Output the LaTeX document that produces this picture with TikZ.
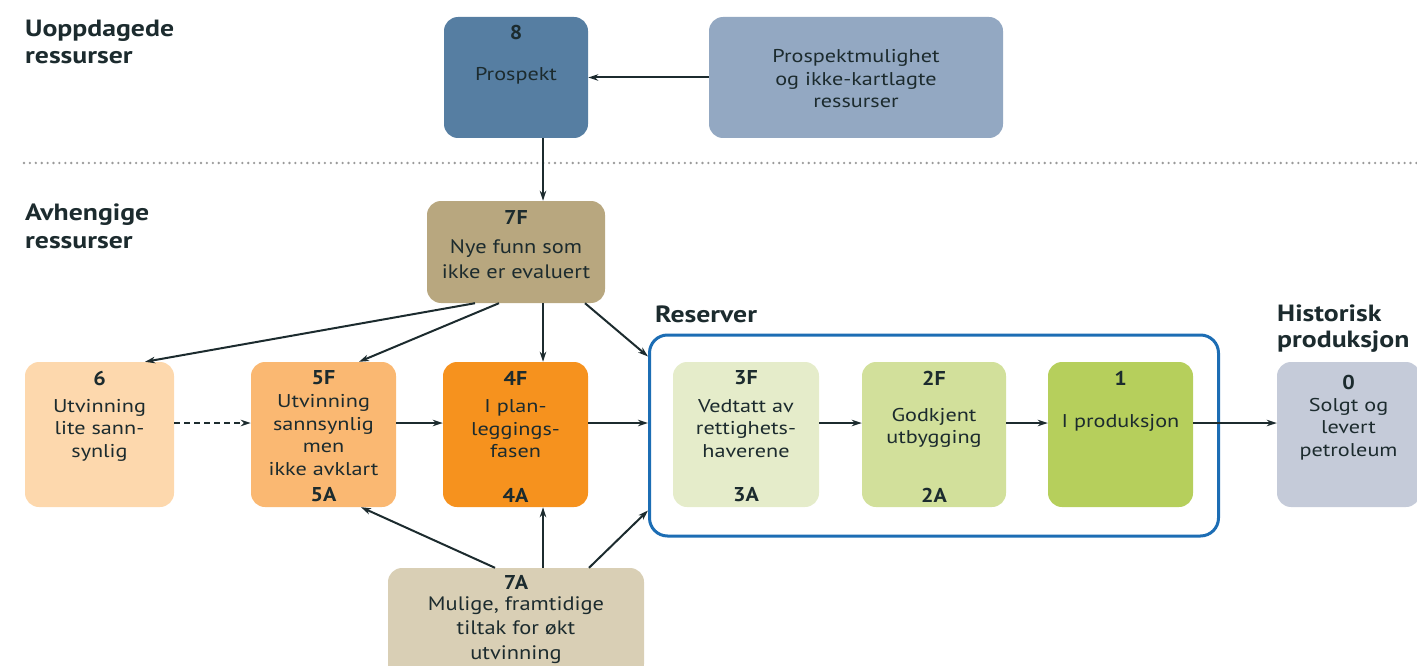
\documentclass[tikz,border=0pt]{standalone}
\usepackage{fontspec}
\setmainfont{PT Sans}
\newfontfamily\bodyf[FakeStretch=1.2]{PT Sans}
\newfontfamily\bigf[FakeStretch=1.15]{PT Sans}
\newfontfamily\headf[FakeStretch=1.18]{PT Sans}
\newfontfamily\numf[FakeStretch=1.1]{PT Sans}
\usetikzlibrary{arrows.meta,calc}
\definecolor{txt}{HTML}{1C2B2E}
\definecolor{cP}{HTML}{567EA2}
\definecolor{cPM}{HTML}{93A8C2}
\definecolor{c7F}{HTML}{B8A77F}
\definecolor{c6}{HTML}{FDD8AD}
\definecolor{c5}{HTML}{FAB872}
\definecolor{c4}{HTML}{F6921E}
\definecolor{c3}{HTML}{E5ECCA}
\definecolor{c2}{HTML}{D2E09B}
\definecolor{c1}{HTML}{B6CF5C}
\definecolor{c0}{HTML}{C5CBD9}
\definecolor{c7A}{HTML}{D9CFB5}
\definecolor{cblue}{HTML}{1C6DB4}
\definecolor{cdot}{HTML}{9A9A9A}
\begin{document}
\begin{tikzpicture}[x=1pt,y=-1pt,
  box/.style={rounded corners=14pt, inner sep=0pt, draw=none},
  numtxt/.style={text=txt, font=\numf\fontsize{20}{22}\selectfont\bfseries, inner sep=0pt},
  bodytxt/.style={text=txt, align=center, font=\bodyf\fontsize{18.5}{22.5}\selectfont, inner sep=0pt},
  bigtxt/.style={text=txt, align=center, font=\bigf\fontsize{19.5}{24.5}\selectfont, inner sep=0pt},
  headtxt/.style={text=txt, align=left, anchor=base west, font=\headf\fontsize{23.5}{27}\selectfont\bfseries, inner sep=0pt},
  arr/.style={draw=txt, line width=2pt, -{Stealth[length=10pt,width=6.5pt,inset=3pt]}},
  dasharr/.style={arr, dash pattern=on 6pt off 4pt}
]
\useasboundingbox (0,0) rectangle (1417,666);
\clip (0,0) rectangle (1417,666);

% headers
\node[headtxt] (hU1) at (25,37) {Uoppdagede};
\node[headtxt] (hU2) at (25,64) {ressurser};
\node[headtxt] (hA1) at (25,220) {Avhengige};
\node[headtxt] (hA2) at (25,248) {ressurser};
\node[headtxt] (hR) at (655,322) {Reserver};
\node[headtxt] (hH1) at (1277,321) {Historisk};
\node[headtxt] (hH2) at (1277,347) {produksjon};

% dotted separator
\coordinate (dotL) at (24,163);
\coordinate (dotR) at (1417,163);
\draw[cdot, line width=2.6pt, line cap=round, dash pattern=on 0pt off 5.9pt] (dotL) -- (dotR);

% boxes
\node[box, fill=cP, minimum width=144pt, minimum height=121pt] (n8) at (516,77.5) {};
\node[box, fill=cPM, minimum width=294pt, minimum height=121pt] (pm) at (856,77.5) {};
\node[box, fill=c7F, minimum width=178pt, minimum height=102pt] (f7) at (516,252) {};
\node[box, fill=c6, minimum width=149pt, minimum height=145pt] (n6) at (99.5,434.5) {};
\node[box, fill=c5, minimum width=145pt, minimum height=145pt] (n5) at (323.5,434.5) {};
\node[box, fill=c4, minimum width=145pt, minimum height=145pt] (n4) at (515.5,434.5) {};
\node[box, draw=cblue, line width=3pt, rounded corners=18pt, minimum width=569pt, minimum height=201pt] (res) at (934,435.5) {};
\node[box, fill=c3, minimum width=146pt, minimum height=145pt] (n3) at (746,434.5) {};
\node[box, fill=c2, minimum width=144pt, minimum height=145pt] (n2) at (934,434.5) {};
\node[box, fill=c1, minimum width=145pt, minimum height=145pt] (n1) at (1120.5,434.5) {};
\node[box, fill=c0, minimum width=143pt, minimum height=145pt] (n0) at (1348.5,434.5) {};
\node[box, fill=c7A, minimum width=256pt, minimum height=110pt] (a7) at (516,623) {};

% texts
\node[numtxt] (t8n) at (516,33) {8};
\node[bodytxt] (t8) at (516,76) {Prospekt};
\node[bodytxt] (tpm) at (856,79) {Prospektmulighet\\og ikke-kartlagte\\ressurser};
\node[numtxt] (t7Fn) at (516,217) {7F};
\node[bigtxt] (t7F) at (516,259) {Nye funn som\\ikke er evaluert};
\node[numtxt] (t6n) at (99.5,378) {6};
\node[bodytxt] (t6) at (99.5,430) {Utvinning\\lite sann-\\synlig};
\node[numtxt] (t5n) at (323.5,378) {5F};
\node[bodytxt] (t5) at (323.5,435) {Utvinning\\sannsynlig\\men\\ikke avklart};
\node[numtxt] (t5a) at (323.5,495) {5A};
\node[numtxt] (t4n) at (515.5,378) {4F};
\node[bodytxt] (t4) at (515.5,429) {I plan-\\leggings-\\fasen};
\node[numtxt] (t4a) at (515.5,495) {4A};
\node[numtxt] (t3n) at (746,378) {3F};
\node[bodytxt] (t3) at (746,428.5) {Vedtatt av\\rettighets-\\haverene};
\node[numtxt] (t3a) at (746,495) {3A};
\node[numtxt] (t2n) at (934,378) {2F};
\node[bodytxt] (t2) at (934,428) {Godkjent\\utbygging};
\node[numtxt] (t2a) at (934,495) {2A};
\node[numtxt] (t1n) at (1120.5,378) {1};
\node[bodytxt] (t1) at (1120.5,423) {I produksjon};
\node[numtxt] (t0n) at (1348.5,382) {0};
\node[bodytxt] (t0) at (1348.5,429) {Solgt og\\levert\\petroleum};
\node[numtxt] (t7An) at (516,582) {7A};
\node[bigtxt] (t7A) at (516,630) {Mulige, framtidige\\tiltak for økt\\utvinning};

% connectors
\draw[arr] (pm.west) -- (n8.east);
\draw[arr] ($(n8.south)+(27,0)$) -- ($(f7.north)+(27,0)$);
\draw[arr] ($(f7.south)+(-41,0)$) -- ($(n6.north)+(45.5,0)$);
\draw[arr] ($(f7.south)+(-17,0)$) -- ($(n5.north)+(35.5,0)$);
\draw[arr] ($(f7.south)+(27,0)$) -- ($(n4.north)+(27.5,0)$);
\draw[arr] ($(f7.south)+(69,0)$) -- ($(res.north west)+(0,23)$);

\coordinate (r6) at ($(n6.east)+(0,-11.5)$);
\coordinate (r5) at ($(n5.east)+(0,-11.5)$);
\coordinate (r4) at ($(n4.east)+(0,-11.5)$);
\coordinate (r3) at ($(n3.east)+(0,-11.5)$);
\coordinate (r2) at ($(n2.east)+(0,-11.5)$);
\coordinate (r1) at ($(n1.east)+(0,-11.5)$);
\draw[dasharr] (r6) -- (r6 -| n5.west);
\draw[arr] (r5) -- (r5 -| n4.west);
\draw[arr] (r4) -- (r4 -| res.west);
\draw[arr] (r3) -- (r3 -| n2.west);
\draw[arr] (r2) -- (r2 -| n1.west);
\draw[arr] (r1) -- (r1 -| n0.west);

\draw[arr] ($(a7.north)+(-21,0)$) -- ($(n5.south)+(37.5,0)$);
\draw[arr] ($(a7.north)+(27,0)$) -- ($(n4.south)+(27.5,0)$);
\draw[arr] ($(a7.north)+(73,0)$) -- ($(res.south west)+(0,-27)$);
\end{tikzpicture}
\end{document}
